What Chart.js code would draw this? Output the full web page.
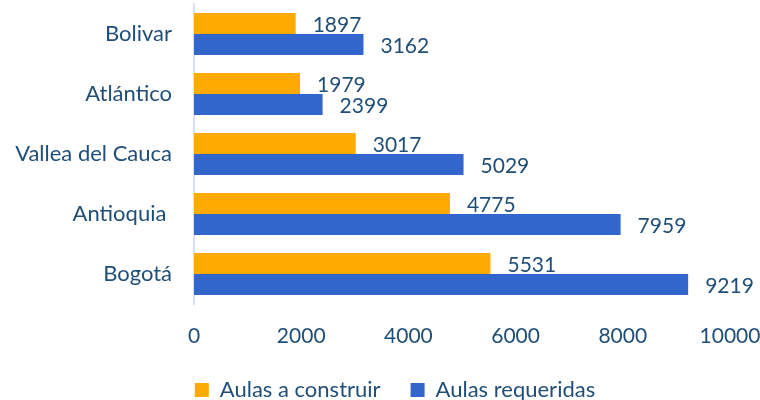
<!DOCTYPE html>
<html>
<head>
<meta charset="utf-8">
<script src="https://cdn.jsdelivr.net/npm/chart.js@4"></script>
<style>
html,body{margin:0;padding:0;background:#fff;}
#wrap{width:760px;height:400px;}
</style>
</head>
<body>
<div id="wrap"><canvas id="c" width="760" height="400"></canvas></div>
<script>
const categories = ['Bolivar', 'Atlántico', 'Vallea del Cauca', 'Antioquia ', 'Bogotá'];
const aulasConstruir = [1897, 1979, 3017, 4775, 5531];
const aulasRequeridas = [3162, 2399, 5029, 7959, 9219];
const xTicks = [0, 2000, 4000, 6000, 8000, 10000];

const TEXT = '#1F4E79';
const FONT = 'Lato';

const labelPlugin = {
  id: 'barLabels',
  afterDatasetsDraw(chart) {
    const ctx = chart.ctx;
    ctx.save();
    ctx.font = '21px ' + FONT;
    ctx.fillStyle = TEXT;
    ctx.textAlign = 'left';
    ctx.textBaseline = 'middle';
    chart.data.datasets.forEach((ds, i) => {
      const meta = chart.getDatasetMeta(i);
      meta.data.forEach((el, j) => {
        ctx.fillText(String(ds.data[j]), el.x + 17, el.y + 2);
      });
    });
    ctx.restore();
  }
};

const legendFix = {
  id: 'legendFix',
  beforeLayout(chart) {
    const lg = chart.legend;
    if (lg && !lg._patched) {
      const orig = lg.fit;
      lg.fit = function () { orig.call(this); this.height = 51; };
      lg._patched = true;
    }
  },
  afterLayout(chart) {
    const lg = chart.legend;
    if (lg) { lg.left += 30; lg.right += 30; }
  }
};

new Chart(document.getElementById('c'), {
  type: 'bar',
  data: {
    labels: categories,
    datasets: [
      { label: 'Aulas a construir', data: aulasConstruir, backgroundColor: '#FFAA00', barPercentage: 1.0, categoryPercentage: 0.7 },
      { label: 'Aulas requeridas', data: aulasRequeridas, backgroundColor: '#3366CC', barPercentage: 1.0, categoryPercentage: 0.7 }
    ]
  },
  options: {
    indexAxis: 'y',
    responsive: false,
    animation: false,
    devicePixelRatio: 1,
    layout: { padding: { top: 4, right: 30, left: 0, bottom: 0 } },
    scales: {
      x: {
        min: 0, max: 10000,
        afterBuildTicks(scale) { scale.ticks = xTicks.map(v => ({ value: v })); },
        afterFit(scale) { scale.height = 45; scale.paddingLeft = 0; scale.paddingRight = 0; },
        grid: { display: false },
        border: { display: false },
        ticks: { color: TEXT, font: { family: FONT, size: 21 }, padding: 12, maxRotation: 0, callback: v => String(v) }
      },
      y: {
        afterFit(scale) { scale.width = 194; scale.paddingTop = 0; scale.paddingBottom = 0; },
        grid: { display: true, color: 'transparent', drawTicks: false },
        border: { display: true, color: '#D9E1F2', width: 2 },
        ticks: { color: TEXT, font: { family: FONT, size: 22 }, padding: 22 }
      }
    },
    plugins: {
      legend: {
        position: 'bottom',
        labels: {
          color: TEXT,
          font: { family: FONT, size: 22 },
          boxWidth: 14, boxHeight: 14,
          padding: 30
        }
      },
      tooltip: { enabled: false }
    }
  },
  plugins: [labelPlugin, legendFix]
});
</script>
</body>
</html>
